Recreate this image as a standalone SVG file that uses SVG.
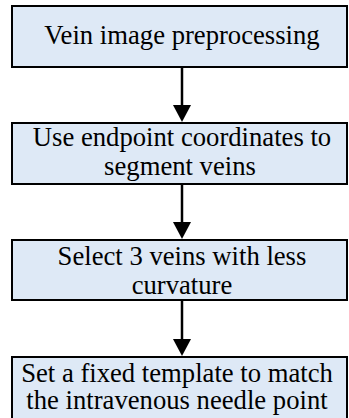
<svg xmlns="http://www.w3.org/2000/svg" width="349" height="418" viewBox="0 0 349 418">
<style>
.box{fill:#dee9f6;stroke:#000;stroke-width:2}
.t{font-family:"Liberation Serif","Times New Roman",serif;font-size:26.67px;fill:#000;text-anchor:middle}
.c{stroke:#000;stroke-width:2.5;fill:none}
.h{fill:#000}
</style>
<rect width="349" height="418" fill="#fff"/>
<g id="n1"><rect class="box" x="12" y="6" width="335" height="61"/><text class="t" x="182" y="44">Vein image preprocessing</text></g>
<g id="n2"><rect class="box" x="12" y="123" width="335" height="61"/><text class="t" x="182" y="146">Use endpoint coordinates to</text><text class="t" x="180" y="175">segment veins</text></g>
<g id="n3"><rect class="box" x="12" y="240" width="335" height="60"/><text class="t" x="182" y="265">Select 3 veins with less</text><text class="t" x="182" y="294">curvature</text></g>
<g id="n4"><rect class="box" x="12" y="357" width="335" height="70"/><text class="t" x="177" y="382">Set a fixed template to match</text><text class="t" x="177" y="409">the intravenous needle point</text></g>
<g id="connectors">
<path class="c" d="M182,67 V105"/><path class="h" d="M173,105 L191,105 L182,122 Z"/>
<path class="c" d="M182,184 V222"/><path class="h" d="M173,222 L191,222 L182,239 Z"/>
<path class="c" d="M182,300 V339"/><path class="h" d="M173,339 L191,339 L182,356 Z"/>
</g>
</svg>
